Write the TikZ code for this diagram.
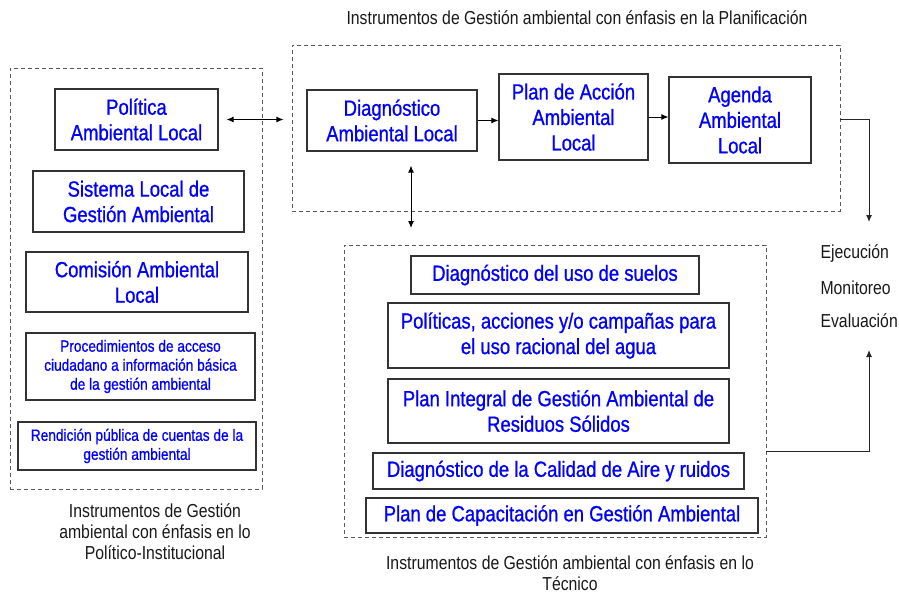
\documentclass[tikz,border=0pt]{standalone}
\usepackage{fontspec}
\setmainfont{Liberation Sans}[FakeStretch=0.84]
\newfontfamily\gruesa{Liberation Sans}[FakeStretch=0.84, FakeBold=0.9]
\usepackage{tikz}
\usetikzlibrary{arrows.meta}

\tikzset{
    caja/.style={draw=black!80, line width=1.1pt, text=blue, align=center,
                 inner sep=0pt, font=\gruesa\fontsize{22}{25.5}\selectfont},
    cajita/.style={caja, font=\gruesa\fontsize{16.3}{19}\selectfont},
    marco/.style={draw=black!65, line width=0.9pt, dash pattern=on 4pt off 3pt},
    rotulo/.style={align=center, text=black!90, font=\fontsize{18.8}{21}\selectfont},
    flecha/.style={line width=1pt, -{Latex[length=7pt,width=6pt]}},
    dflecha/.style={line width=1pt, {Latex[length=7pt,width=6pt]}-{Latex[length=7pt,width=6pt]}}
}

\begin{document}
\begin{tikzpicture}[x=1pt,y=-1pt]
                            \useasboundingbox (0,0) rectangle (899,594);

                            % Politico-institucional
                            \node[marco, minimum width=252pt, minimum height=421pt] (politico) at (136,278.5) {};
                            \node[caja, minimum width=163pt, minimum height=61pt] (pol) at (136.5,119.5) {Política\\Ambiental Local};
                            \node[caja, minimum width=211pt, minimum height=61pt] (sis) at (138.5,201.5) {Sistema Local de\\Gestión Ambiental};
                            \node[caja, minimum width=222pt, minimum height=60pt] (com) at (137,282) {Comisión Ambiental\\Local};
                            \node[cajita, minimum width=229pt, minimum height=67pt] (pro) at (140.5,366.5) {Procedimientos de acceso\\ciudadano a información básica\\de la gestión ambiental};
                            \node[cajita, minimum width=238pt, minimum height=48pt] (ren) at (137,446) {Rendición pública de cuentas de la\\gestión ambiental};
                            \node[rotulo] (lpol) at (155,532) {Instrumentos de Gestión\\ambiental con énfasis en lo\\Político-Institucional};

                            % Planificacion
                            \node[marco, minimum width=548pt, minimum height=166pt] (planif) at (566,128) {};
                            \node[rotulo] (lplan) at (577,18) {Instrumentos de Gestión ambiental con énfasis en la Planificación};
                            \node[caja, minimum width=170pt, minimum height=61pt] (diag) at (392,120.5) {Diagnóstico\\Ambiental Local};
                            \node[caja, minimum width=149pt, minimum height=86pt] (pac) at (573.5,117) {Plan de Acción\\Ambiental\\Local};
                            \node[caja, minimum width=142pt, minimum height=86pt] (age) at (740,120) {Agenda\\Ambiental\\Local};

                            % Tecnico
                            \node[marco, minimum width=422pt, minimum height=292pt] (tecnico) at (555,391) {};
                            \node[caja, minimum width=288pt, minimum height=38pt] (suelo) at (555,275) {Diagnóstico del uso de suelos};
                            \node[caja, minimum width=341pt, minimum height=65pt] (agua) at (558.5,335.5) {Políticas, acciones y/o campañas para\\el uso racional del agua};
                            \node[caja, minimum width=341pt, minimum height=64pt] (resid) at (558.5,411) {Plan Integral de Gestión Ambiental de\\Residuos Sólidos};
                            \node[caja, minimum width=371pt, minimum height=36pt] (aire) at (558.5,471) {Diagnóstico de la Calidad de Aire y ruidos};
                            \node[caja, minimum width=392pt, minimum height=35pt] (capa) at (562,515.5) {Plan de Capacitación en Gestión Ambiental};
                            \node[rotulo] (ltec) at (570,573) {Instrumentos de Gestión ambiental con énfasis en lo\\Técnico};

                            % Ejecucion
                            \node[rotulo, anchor=west] (eje) at (817,254) {Ejecución};
                            \node[rotulo, anchor=west] (mon) at (817,288) {Monitoreo};
                            \node[rotulo, anchor=west] (eva) at (817,321) {Evaluación};

                            % Flechas
                            \draw[dflecha, shorten <=8pt, shorten >=23pt] (pol.east) -- (diag.west |- pol.east);
                            \draw[flecha] (diag.east) -- (pac.west |- diag.east);
                            \draw[flecha] (pac.east) -- (age.west |- pac.east);
                            \coordinate (vtop) at ([xshift=19pt,yshift=-14pt]diag.south);
                            \coordinate (vbot) at (vtop |- 0,228);
                            \draw[dflecha] (vtop) -- (vbot);
                            \coordinate (baja) at (869,222);
                            \coordinate (sube) at (869,350);
                            \coordinate (tecout) at (tecnico.east |- 0,451);
                            \draw[flecha, black!85] (planif.east |- 0,119) -| (baja);
                            \draw[flecha, black!85] (tecout) -| (sube);
                      \end{tikzpicture}
\end{document}
